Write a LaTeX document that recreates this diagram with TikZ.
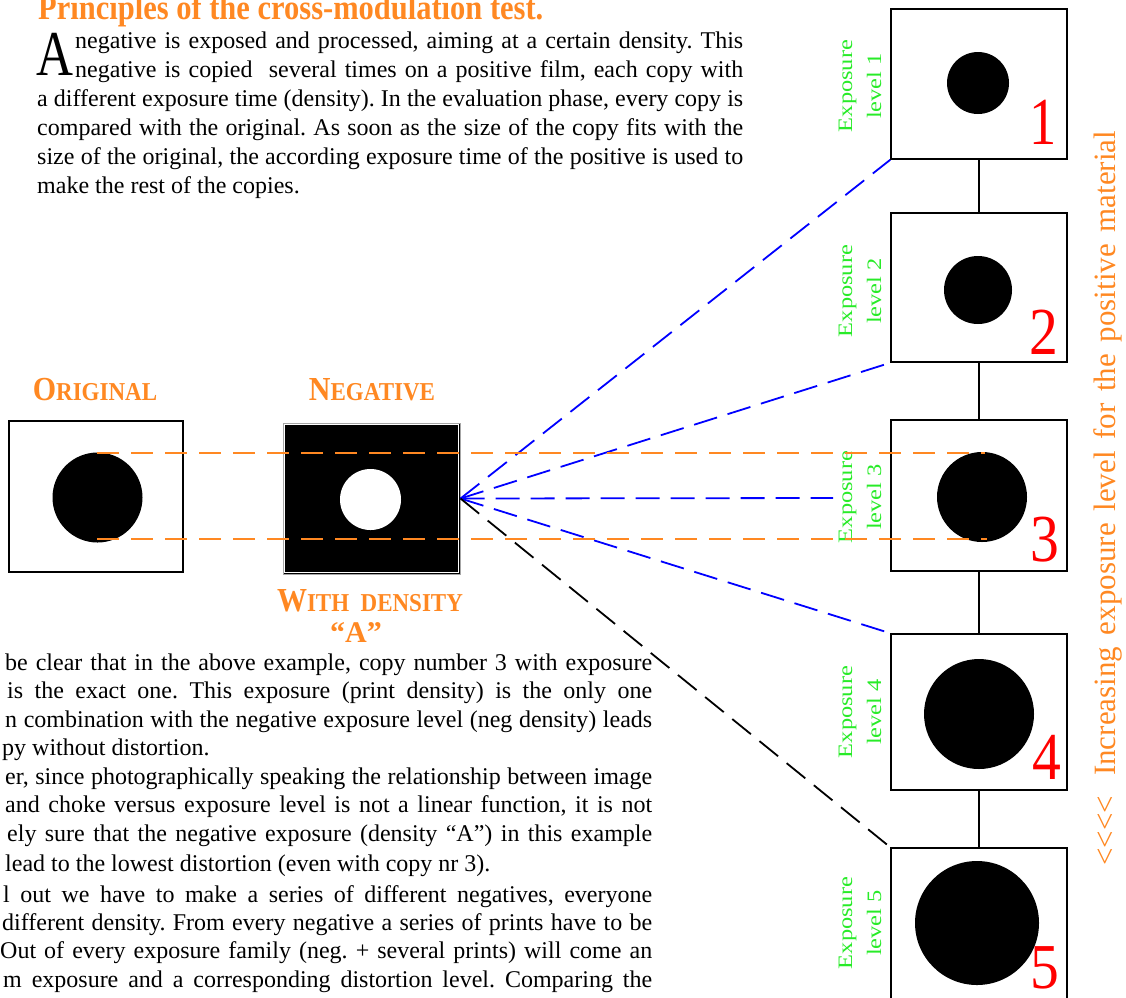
\documentclass[tikz,border=0pt]{standalone}
\usepackage{fontspec}
\setmainfont{Liberation Serif}
\usepackage{graphicx}
\definecolor{orng}{RGB}{255,136,34}
\definecolor{lgreen}{RGB}{40,235,40}
\newcommand{\bigsc}[1]{{\fontsize{30}{30}\selectfont #1}}
\newcommand{\smlsc}[1]{{\fontsize{23}{23}\selectfont #1}}
\newcommand{\lbl}[1]{\scalebox{1.19}[1]{#1}}
\newcommand{\tall}[1]{\scalebox{1}[1.12]{#1}}
\begin{document}
\frenchspacing
\begin{tikzpicture}[x=1pt,y=-1pt,
  frame/.style={draw=black, line width=1.6pt, inner sep=0pt, minimum width=176pt},
  dot/.style={circle, fill=black, inner sep=0pt},
  link/.style={line width=1.8pt, dash pattern=on 24pt off 11pt},
  guide/.style={draw=orng, line width=1.8pt, dash pattern=on 22pt off 12pt},
  body/.style={inner sep=0pt, anchor=base west, font=\fontsize{24}{28}\selectfont},
  explabel/.style={text=lgreen, rotate=90, align=center, inner sep=0pt, font=\fontsize{20.5}{29}\selectfont},
  digit/.style={text=red, inner sep=0pt, anchor=base east, font=\fontsize{64}{64}\selectfont},
  caption/.style={text=orng, inner sep=0pt, anchor=base, font=\bfseries}
]
\useasboundingbox (0,0) rectangle (1126,997);

% ---------- heading and first paragraph ----------
\node[body, text=orng, font=\fontsize{30.5}{30}\selectfont\bfseries] (title) at (38,19)
  {\scalebox{1}[1.15]{Principles of the cross-modulation test.}};
\node[body, font=\fontsize{64}{64}\selectfont] (dropA) at (36,75) {\scalebox{0.8}[1]{A}};
\node[body] (p1a) at (75,48) {\makebox[668pt][s]{negative is exposed and processed, aiming at a certain density. This}};
\node[body] (p1b) at (75,77) {\makebox[668pt][s]{negative is copied\ \ several times on a positive film, each copy with}};
\node[body] (p1c) at (37,106) {\makebox[706pt][s]{a different exposure time (density). In the evaluation phase, every copy is}};
\node[body] (p1d) at (37,135) {\makebox[706pt][s]{compared with the original. As soon as the size of the copy fits with the}};
\node[body] (p1e) at (37,164) {\makebox[706pt][s]{size of the original, the according exposure time of the positive is used to}};
\node[body] (p1f) at (37,193) {make the rest of the copies.};

% ---------- original and negative ----------
\node[caption] (capO) at (95,400) {\tall{\bigsc{O}\smlsc{RIGINAL}}};
\node[caption] (capN) at (372,400) {\tall{\bigsc{N}\smlsc{EGATIVE}}};
\node[frame, minimum width=174pt, minimum height=151pt] (orig) at (96,496.5) {};
\node[dot, minimum size=90pt] (corig) at (97.5,497.5) {};
\node[fill=black, draw=gray!70, line width=1pt, inner sep=0pt, minimum width=177pt, minimum height=151pt] (neg) at (371.5,498.5) {};
\draw[white, line width=0.8pt] ([shift={(2,2)}]neg.north west) rectangle ([shift={(-2,-2)}]neg.south east);
\node[circle, fill=white, inner sep=0pt, minimum size=61pt] (cneg) at (370.5,499.5) {};
\node[caption] (capW) at (370,611) {\tall{\bigsc{W}\smlsc{ITH\ \ DENSITY}}};
\node[caption] (capA) at (356,642) {\bigsc{“A”}};

% ---------- copies at five exposure levels ----------
\node[frame, minimum height=150pt] (b1) at (979,84) {};
\node[frame, minimum height=149pt] (b2) at (979,287.5) {};
\node[frame, minimum height=151pt] (b3) at (979,495.5) {};
\node[frame, minimum height=156pt] (b4) at (979,712) {};
\node[frame, minimum height=152pt] (b5) at (979,924) {};
\draw[line width=1.6pt] (b1.south) -- (b2.north);
\draw[line width=1.6pt] (b2.south) -- (b3.north);
\draw[line width=1.6pt] (b3.south) -- (b4.north);
\draw[line width=1.6pt] (b4.south) -- (b5.north);

\node[dot, minimum size=62pt] (c1) at (978,83) {};
\node[dot, minimum size=68pt] (c2) at (978,290) {};
\node[dot, minimum size=90pt] (c3) at (982,497) {};
\node[dot, minimum size=110pt] (c4) at (979,714) {};
\node[dot, minimum size=124pt] (c5) at (977,923) {};

\node[digit] (n1) at (1057,144) {\scalebox{0.85}[1.05]{1}};
\node[digit] (n2) at (1058,354) {\scalebox{0.9}[1.05]{2}};
\node[digit] (n3) at (1059,561) {\scalebox{0.9}[1.05]{3}};
\node[digit] (n4) at (1061,779) {\scalebox{0.9}[1.05]{4}};
\node[digit] (n5) at (1059,988) {\scalebox{0.9}[1.0]{5}};

\node[explabel] (e1) at (860,86) {\lbl{Exposure}\\\lbl{level 1}};
\node[explabel] (e2) at (860,291) {\lbl{Exposure}\\\lbl{level 2}};
\node[explabel] (e3) at (860,497) {\lbl{Exposure}\\\lbl{level 3}};
\node[explabel] (e4) at (860,712) {\lbl{Exposure}\\\lbl{level 4}};
\node[explabel] (e5) at (860,923) {\lbl{Exposure}\\\lbl{level 5}};

% ---------- rays from the negative ----------
\coordinate (mid3) at (833,498);
\draw[link, blue] (neg.east) -- (b1.south west);
\draw[link, blue] (neg.east) -- (b2.south west);
\draw[link, blue] (neg.east) -- (mid3);
\draw[link, blue] (neg.east) -- (b4.north west);
\draw[link, black] (neg.east) -- (b5.north west);

% ---------- size guides ----------
\coordinate (gTa) at (97,453);
\coordinate (gTb) at (985,453);
\coordinate (gBa) at (97,539);
\coordinate (gBb) at (987,539);
\draw[guide] (gTa) -- (gTb);
\draw[guide] (gBa) -- (gBb);

% ---------- side caption ----------
\node[text=orng, rotate=90, anchor=base west, inner sep=0pt, font=\fontsize{31}{31}\selectfont] (side) at (1115,866)
  {\makebox[66pt][s]{<\hfill<\hfill<\hfill<}\hspace{24pt}\makebox[645pt][s]{Increasing exposure level for the positive material}};

% ---------- second part of the text ----------
\node[body] (q1) at (5,670) {\makebox[647pt][s]{be clear that in the above example, copy number 3 with exposure}};
\node[body] (q2) at (7,698) {\makebox[645pt][s]{is the exact one. This exposure (print density) is the only one}};
\node[body] (q3) at (5,727) {\makebox[647pt][s]{n combination with the negative exposure level (neg density) leads}};
\node[body] (q4) at (2,755) {py without distortion.};
\node[body] (q5) at (5,784) {\makebox[647pt][s]{er, since photographically speaking the relationship between image}};
\node[body] (q6) at (5,812) {\makebox[647pt][s]{and choke versus exposure level is not a linear function, it is not}};
\node[body] (q7) at (7,841) {\makebox[645pt][s]{ely sure that the negative exposure (density “A”) in this example}};
\node[body] (q8) at (5,871) {lead to the lowest distortion (even with copy nr 3).};
\node[body] (q9) at (3,902) {\makebox[649pt][s]{l out we have to make a series of different negatives, everyone}};
\node[body] (q10) at (2,930) {\makebox[650pt][s]{different density. From every negative a series of prints have to be}};
\node[body] (q11) at (0,958) {\makebox[652pt][s]{Out of every exposure family (neg. + several prints) will come an}};
\node[body] (q12) at (3,987) {\makebox[649pt][s]{m exposure and a corresponding distortion level. Comparing the}};
\end{tikzpicture}
\end{document}
